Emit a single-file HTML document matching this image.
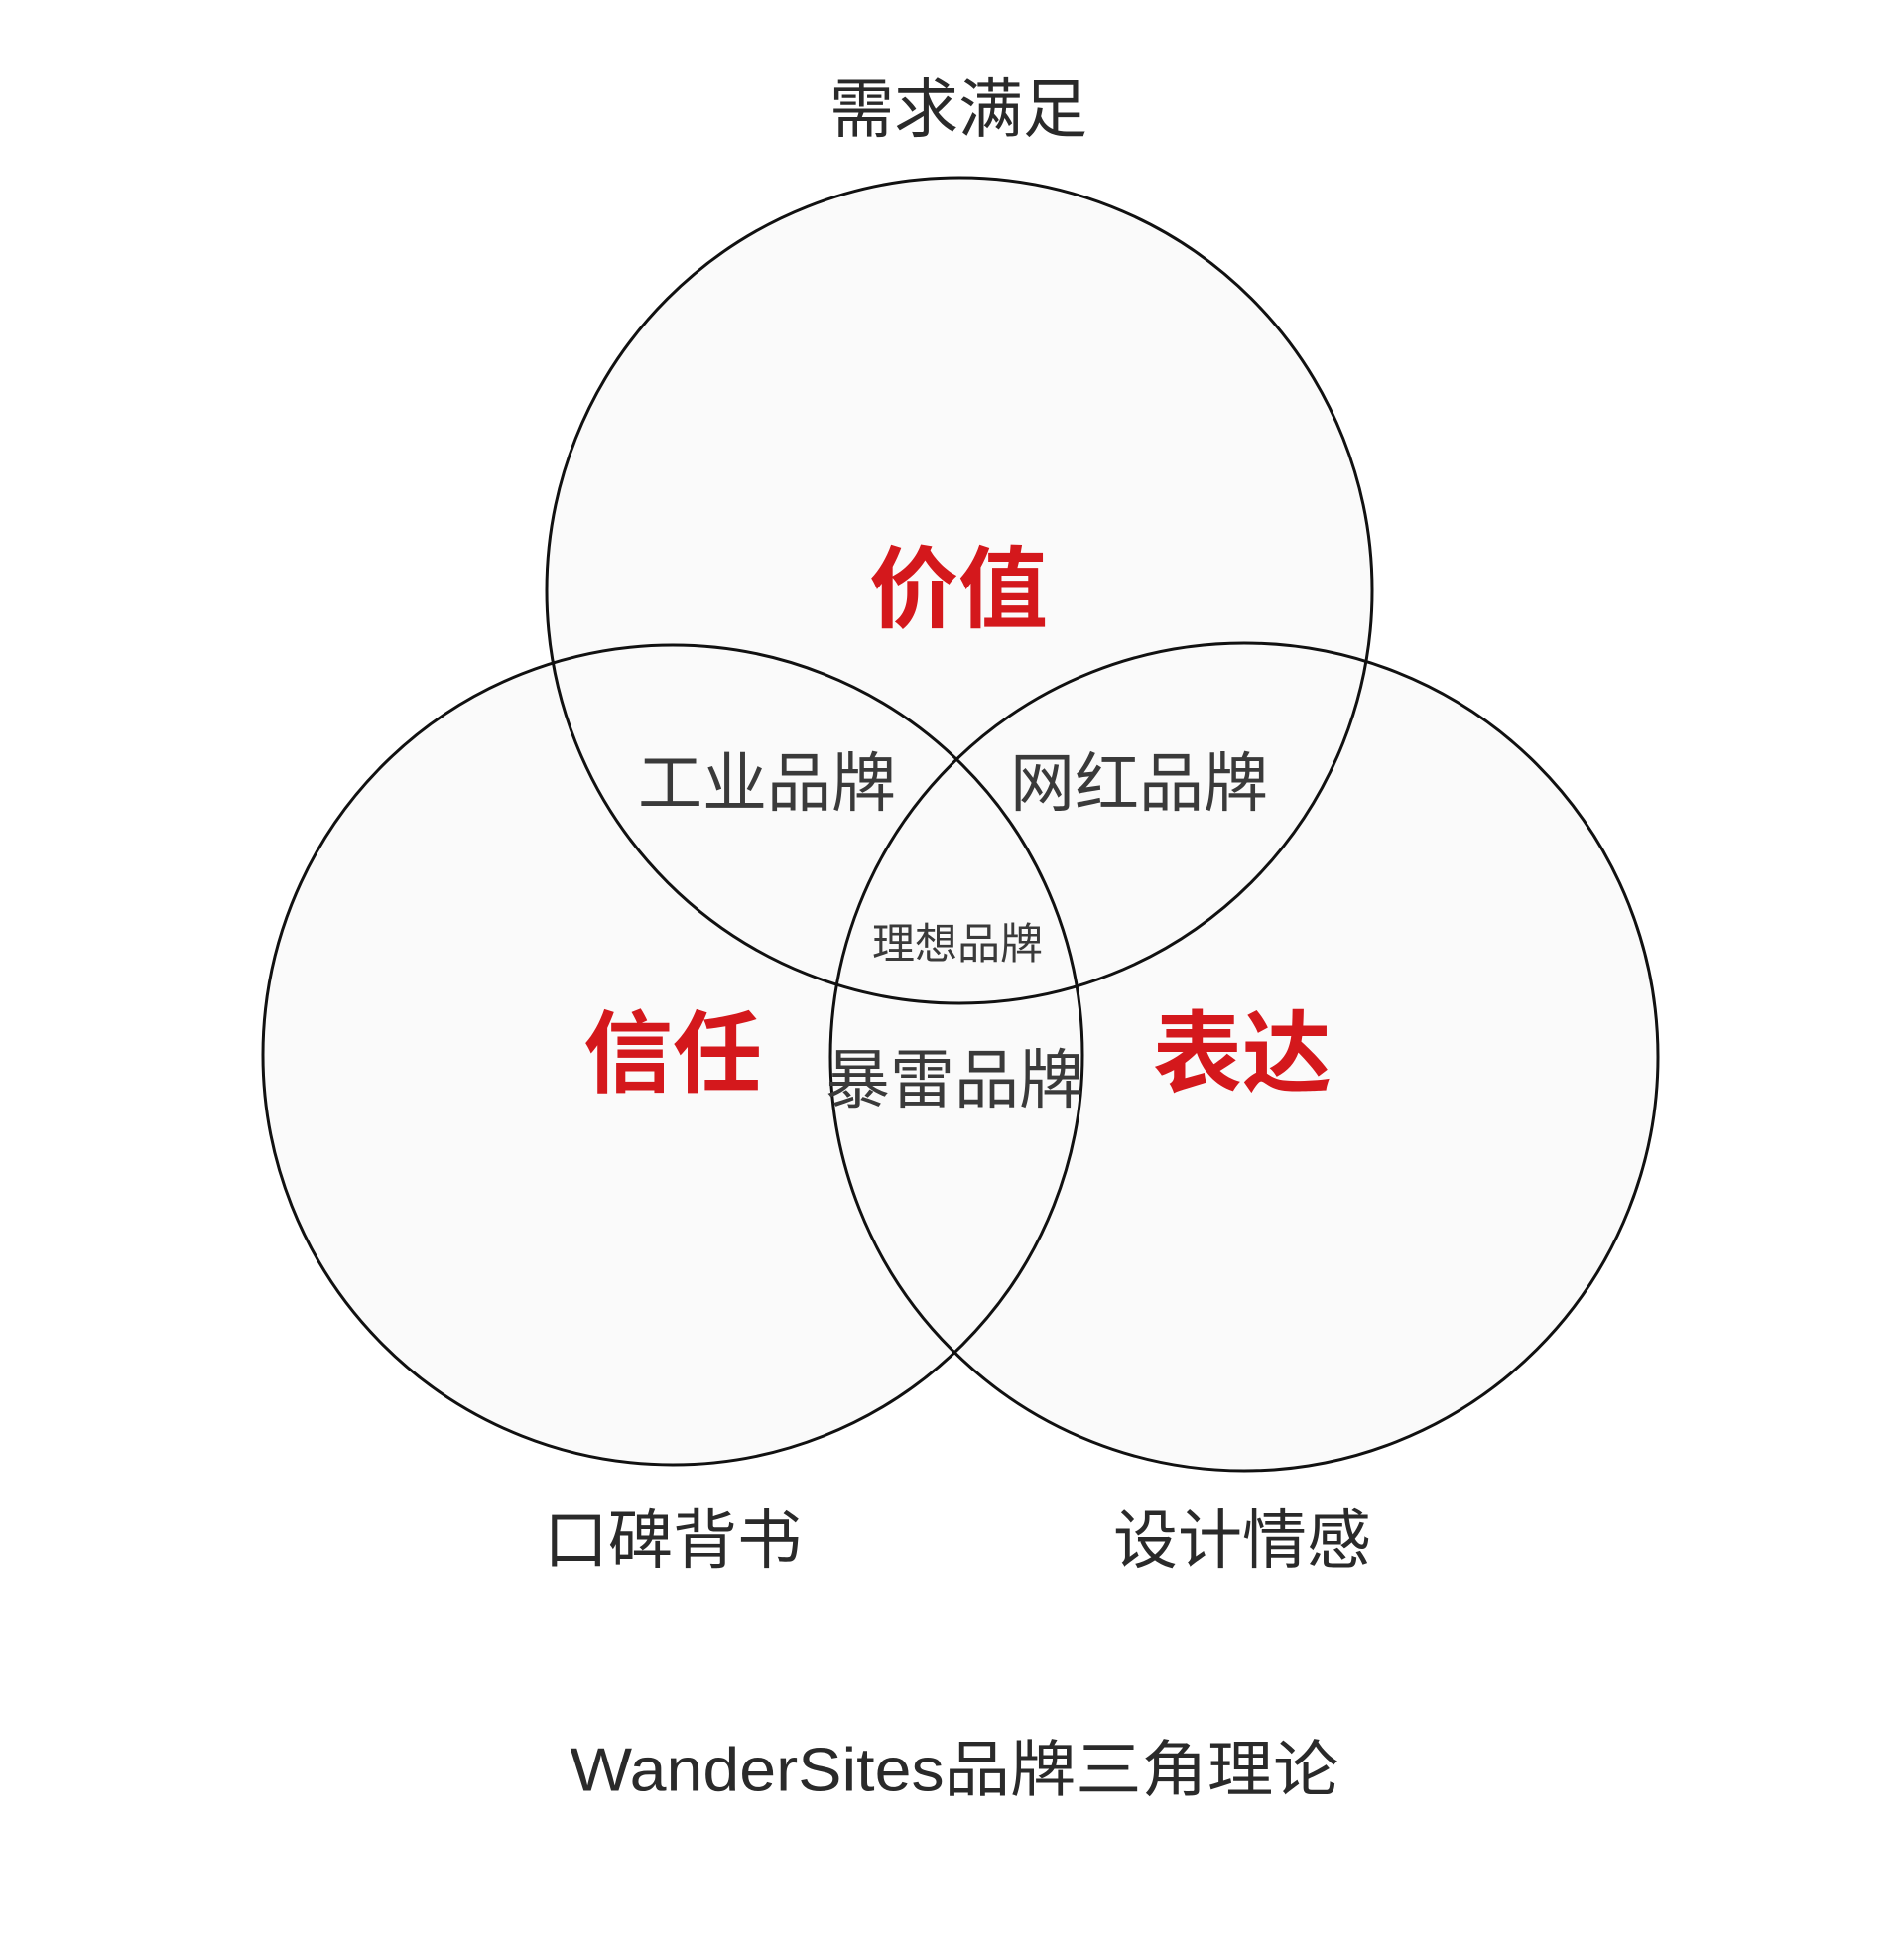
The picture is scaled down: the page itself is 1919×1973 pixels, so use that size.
<!DOCTYPE html>
<html><head><meta charset="utf-8"><style>
html,body{margin:0;padding:0;background:#fff;}
svg{display:block;}
text{font-family:"Liberation Sans","Noto Sans CJK SC",sans-serif;text-anchor:middle;dominant-baseline:central;}
</style></head><body>
<svg width="1919" height="1973" viewBox="0 0 1919 1973" xmlns="http://www.w3.org/2000/svg">
<rect width="1919" height="1973" fill="#fff"/>
<g fill="#fafafa" stroke="none">
<circle cx="967" cy="595" r="416"/>
<circle cx="678" cy="1063" r="413"/>
<circle cx="1254" cy="1065" r="417"/>
</g>
<g fill="none" stroke="#111" stroke-width="3">
<circle cx="967" cy="595" r="416"/>
<circle cx="678" cy="1063" r="413"/>
<circle cx="1254" cy="1065" r="417"/>
</g>
<g fill="#2a2a2a">
<text x="966" y="110" font-size="65">需求满足</text>
<text x="773" y="789" font-size="65" fill="#3a3a3a">工业品牌</text>
<text x="1148" y="789" font-size="65" fill="#3a3a3a">网红品牌</text>
<text x="965" y="952" font-size="43" fill="#3a3a3a">理想品牌</text>
<text x="962" y="1088" font-size="65" fill="#3a3a3a">暴雷品牌</text>
<text x="678" y="1552" font-size="65">口碑背书</text>
<text x="1252" y="1552" font-size="65">设计情感</text>
<text x="962" y="1784" font-size="62" font-family="DejaVu Sans, Noto Sans CJK SC, sans-serif" textLength="775" lengthAdjust="spacingAndGlyphs">WanderSites品牌三角理论</text>
</g>
<g fill="#d4181c" font-weight="bold">
<text x="966" y="595" font-size="90">价值</text>
<text x="678" y="1063" font-size="90">信任</text>
<text x="1252" y="1063" font-size="90">表达</text>
</g>
</svg>
</body></html>
